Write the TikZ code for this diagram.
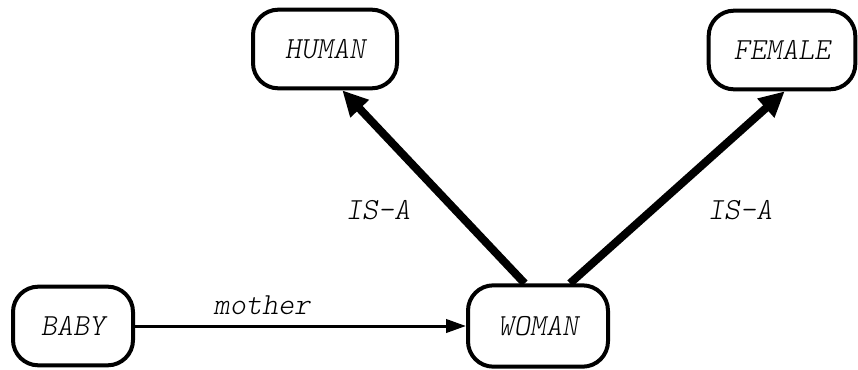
\documentclass[tikz,border=0pt]{standalone}
\usepackage{tikz}
\usetikzlibrary{positioning,arrows.meta}

\newcommand{\framefont}{\fontseries{l}\ttfamily\slshape\fontsize{23}{27}\selectfont}

\begin{document}
\begin{tikzpicture}[
  x=0.75pt, y=-0.75pt,
  concept/.style={draw, line width=3pt, rounded corners=19pt, minimum height=59pt, font=\framefont},
  isa/.style={line width=6pt, -{Triangle[length=19pt, width=18pt]}},
  relation/.style={line width=2.25pt, -{Triangle[length=15pt, width=10pt]}},
  label/.style={font=\framefont},
]
\useasboundingbox (0,0) rectangle (858,369);

% Concepts
\node[concept, minimum width=108pt] (human) at (325,49) {HUMAN};
\node[concept, minimum width=110pt] (female) at (782,50) {FEMALE};
\node[concept, minimum width=90pt] (baby) at (73,326) {BABY};
\node[concept, minimum width=105pt, minimum height=61pt] (woman) at (538,326) {WOMAN};

% IS-A links
\draw[isa] ([xshift=-10pt]woman.north) -- ([xshift=13pt]human.south);
\draw[isa] ([xshift=24pt]woman.north) -- ([xshift=2pt]female.south);

% Slot
\draw[relation] (baby) -- (woman);

% Link labels
\node[label] (isa1) at (378,210) {IS-A};
\node[label] (isa2) at (740,210) {IS-A};
\node[label] (slot) at (262,305) {mother};

\end{tikzpicture}
\end{document}
